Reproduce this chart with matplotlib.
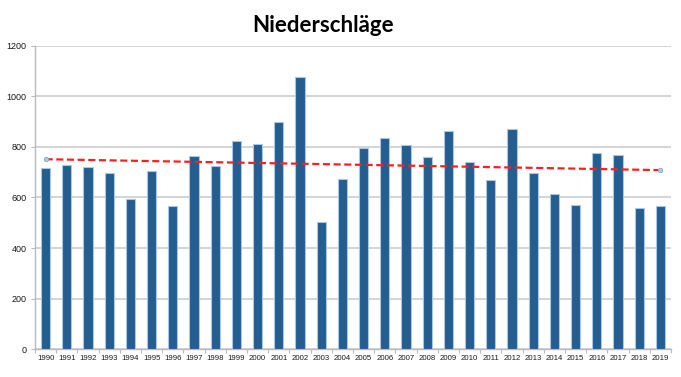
import matplotlib
matplotlib.use("Agg")
import matplotlib.pyplot as plt
import numpy as np

years = [str(y) for y in range(1990, 2020)]
niederschlag = [715, 730, 721, 698, 593, 706, 568, 763, 723, 825,
                810, 897, 1078, 502, 672, 795, 834, 808, 761, 863,
                740, 668, 870, 696, 615, 572, 776, 769, 559, 566]
title = "Niederschläge"
y_ticks = [0, 200, 400, 600, 800, 1000, 1200]

fig = plt.figure(figsize=(6.81, 3.77), dpi=100)
ax = fig.add_axes([35/681, 1 - 349.3/377, 636/681, 303.6/377])

x = np.arange(len(years))
ax.bar(x, niederschlag, width=0.44, color="#245d8f", edgecolor="#a9c6e6",
       linewidth=0.8, zorder=3)

# linear trend
k, d = np.polyfit(x, niederschlag, 1)
xt = np.array([x[0], x[-1]])
ax.plot(xt, k * xt + d, color="#ff1f1f", linestyle=(0, (3.2, 1.6)),
        linewidth=1.6, zorder=4)
ax.plot(xt, k * xt + d, linestyle="none", marker="o", markersize=3.2,
        markerfacecolor="#b8c8dc", markeredgecolor="#8ea6c4",
        markeredgewidth=0.6, zorder=5)

ax.set_xlim(-0.5, len(years) - 0.5)
ax.set_ylim(0, 1200)
ax.set_yticks(y_ticks)
ax.set_yticklabels([str(v) for v in y_ticks], fontsize=6.5,
                   family="Liberation Sans", color="#1a1a1a")
ax.set_xticks(x)
ax.set_xticklabels(years, fontsize=5.6, family="Liberation Sans",
                   color="#1a1a1a")
ax.tick_params(axis="x", length=0, pad=4)
ax.set_xticks(np.arange(-0.5, len(years)), minor=True)
ax.tick_params(axis="x", which="minor", length=3, color="#bbbbbb", width=0.8)
ax.tick_params(axis="y", length=3, color="#bbbbbb", width=0.8, pad=3)

ax.grid(axis="y", color="#d4d4d4", linewidth=1.4, zorder=0)
for s in ["top", "right"]:
    ax.spines[s].set_visible(False)
ax.spines["left"].set_color("#bbbbbb")
ax.spines["left"].set_linewidth(1.0)
ax.spines["bottom"].set_color("#bbbbbb")
ax.spines["bottom"].set_linewidth(1.0)

fig.text(323/681, 1 - 25/377, title, ha="center", va="center",
         fontsize=16, fontweight="bold", family="Lato", color="#000000")

fig.savefig("out.png", dpi=100)
